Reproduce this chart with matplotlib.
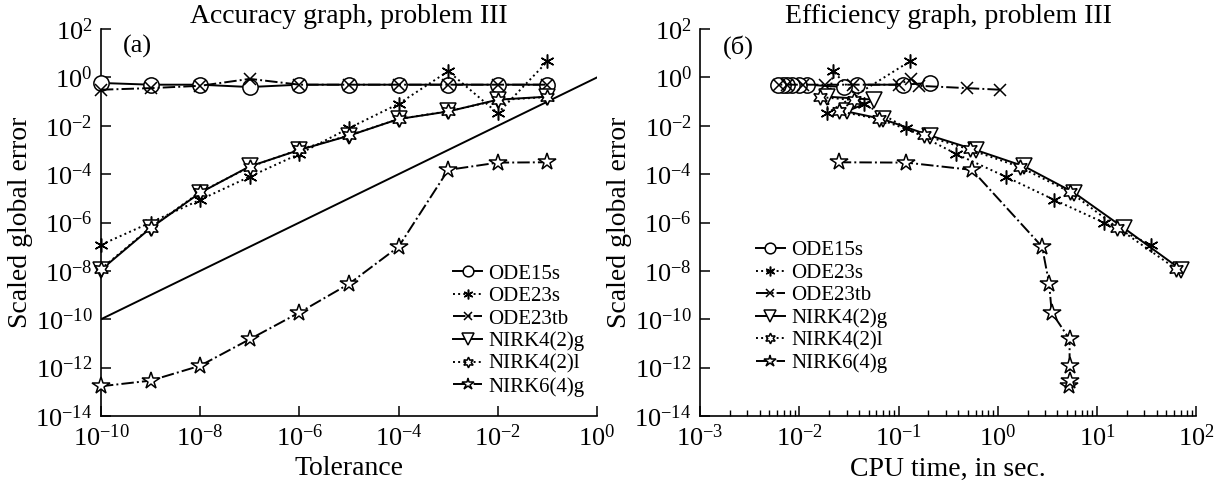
"""Accuracy and efficiency graphs for problem III."""

import matplotlib

matplotlib.use("Agg")
import matplotlib.pyplot as plt
from matplotlib.ticker import LogLocator, NullLocator

plt.rcParams["font.family"] = ["Liberation Serif", "DejaVu Serif"]
plt.rcParams["mathtext.fontset"] = "stix"

# Tolerances (x of panel a) and scaled global errors (shared by both panels)
tol = [1e-10, 1e-9, 1e-8, 1e-7, 1e-6, 1e-5, 1e-4, 1e-3, 1e-2, 1e-1]
err_ode15s = [0.59, 0.50, 0.50, 0.40, 0.50, 0.50, 0.50, 0.50, 0.50, 0.50]
err_ode23s = [1.2e-7, 1.0e-6, 8.7e-6, 7.9e-5, 6.9e-4, 8.0e-3, 8.1e-2, 1.8, 3.3e-2, 4.6]
err_ode23tb = [0.31, 0.36, 0.45, 0.87, 0.50, 0.50, 0.50, 0.50, 0.50, 0.50]
err_nirk42g = [1.1e-8, 5.9e-7, 1.7e-5, 2.1e-4, 1.0e-3, 3.9e-3, 1.9e-2, 3.9e-2, 0.12, 0.16]
err_nirk42l = [1.2e-8, 6.2e-7, 1.8e-5, 2.0e-4, 1.05e-3, 4.0e-3, 1.9e-2, 4.0e-2, 0.115, 0.155]
err_nirk64g = [1.7e-13, 2.9e-13, 1.2e-12, 1.5e-11, 1.9e-10, 2.9e-9, 1.0e-7, 1.5e-4, 3.0e-4, 3.1e-4]

# CPU times in seconds (x of panel b)
cpu_ode15s = [0.21, 0.11, 0.038, 0.028, 0.012, 0.010, 0.0085, 0.0075, 0.0068, 0.0061]
cpu_ode23s = [35, 11.7, 3.7, 1.2, 0.38, 0.12, 0.045, 0.022, 0.019, 0.13]
cpu_ode23tb = [1.05, 0.49, 0.16, 0.135, 0.10, 0.035, 0.018, 0.011, 0.0075, 0.0063]
cpu_nirk42g = [71, 18.7, 5.9, 1.85, 0.60, 0.21, 0.069, 0.030, 0.057, 0.019]
cpu_nirk42l = [63, 16, 5.4, 1.66, 0.52, 0.18, 0.063, 0.025, 0.036, 0.016]
cpu_nirk64g = [5.2, 5.3, 5.3, 5.3, 3.5, 3.3, 2.8, 0.55, 0.12, 0.025]

# reference slope line in panel a
ref_tol = [1e-10, 1.0]
ref_err = [1e-10, 1.0]

_SERIES = (
    ("ODE15s", err_ode15s, cpu_ode15s, dict(ls="-", marker="o", ms=11)),
    ("ODE23s", err_ode23s, cpu_ode23s, dict(ls=":", marker=(6, 2, 0), ms=10)),
    ("ODE23tb", err_ode23tb, cpu_ode23tb, dict(ls="-.", marker="x", ms=8)),
    ("NIRK4(2)g", err_nirk42g, cpu_nirk42g, dict(ls="-", marker="v", ms=12)),
    ("NIRK4(2)l", err_nirk42l, cpu_nirk42l, dict(ls=":", marker=(6, 1, 0), ms=11)),
    ("NIRK6(4)g", err_nirk64g, cpu_nirk64g, dict(ls="-.", marker="*", ms=13)),
)


def _style_axes(ax):
    for side in ("top", "right"):
        ax.spines[side].set_visible(False)
    for side in ("left", "bottom"):
        ax.spines[side].set_linewidth(1.2)
    ax.set_yscale("log")
    ax.set_xscale("log")
    ax.set_ylim(1e-14, 1e2)
    ax.set_yticks([10.0 ** k for k in range(-14, 3, 2)])
    ax.yaxis.set_minor_locator(NullLocator())
    ax.tick_params(which="major", direction="in", length=7, width=1.1, labelsize=19, pad=6)
    ax.tick_params(which="minor", direction="in", length=4, width=1.0)
    ax.set_ylabel("Scaled global error", fontsize=20, labelpad=2)


def _plot_series(ax, xs_key):
    for label, err, cpu, st in _SERIES:
        xs = tol if xs_key == "tol" else cpu
        ax.plot(xs, err, color="black", lw=1.4, mfc="white", mec="black", mew=1.1,
                label=label, clip_on=False, zorder=3, **st)


def _legend(ax, anchor):
    ax.legend(loc="upper left", bbox_to_anchor=anchor, bbox_transform=fig.transFigure,
              frameon=False, fontsize=15, numpoints=1, handlelength=1.4, handletextpad=0.3,
              labelspacing=0.14, borderpad=0, markerscale=0.7)


fig = plt.figure(figsize=(12.16, 4.88), dpi=100)
ax1 = fig.add_axes([0.083, 0.1475, 0.408, 0.793])
ax2 = fig.add_axes([0.5757, 0.1475, 0.408, 0.793])

# panel (a): accuracy
_plot_series(ax1, "tol")
ax1.plot(ref_tol, ref_err, color="black", lw=1.4)
_style_axes(ax1)
ax1.set_xlim(1e-10, 1e0)
ax1.set_xticks([10.0 ** k for k in range(-10, 1, 2)])
ax1.xaxis.set_minor_locator(NullLocator())
ax1.set_xlabel("Tolerance", fontsize=20)
ax1.set_title("Accuracy graph, problem III", fontsize=20, pad=2)
ax1.text(0.045, 0.985, "(a)", transform=ax1.transAxes, fontsize=19, va="top")
_legend(ax1, (0.364, 0.48))

# panel (b): efficiency
_plot_series(ax2, "cpu")
_style_axes(ax2)
ax2.set_xlim(1e-3, 1e2)
ax2.xaxis.set_major_locator(LogLocator(base=10, numticks=10))
ax2.xaxis.set_minor_locator(LogLocator(base=10, subs=range(2, 10), numticks=10))
ax2.set_xlabel("CPU time, in sec.", fontsize=20)
ax2.set_title("Efficiency graph, problem III", fontsize=20, pad=2)
ax2.text(0.045, 0.985, "(б)", transform=ax2.transAxes, fontsize=19, va="top")
_legend(ax2, (0.613, 0.528))

fig.savefig("out.png", dpi=100)
plt.close(fig)
